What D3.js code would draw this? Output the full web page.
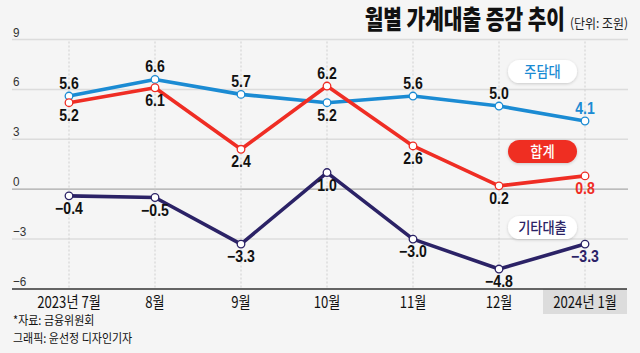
<!DOCTYPE html>
<html><head><meta charset="utf-8">
<script src="https://cdn.jsdelivr.net/npm/d3@7"></script>
<style>
body{margin:0;background:#f5f5f5;}
svg{display:block;}
</style></head>
<body>
<svg id="c" width="640" height="353"></svg>
<script>
const categories = ["2023년 7월","8월","9월","10월","11월","12월","2024년 1월"];
const mortgage = [5.6, 6.6, 5.7, 5.2, 5.6, 5.0, 4.1];   // 주담대
const total    = [5.2, 6.1, 2.4, 6.2, 2.6, 0.2, 0.8];   // 합계
const other    = [-0.4, -0.5, -3.3, 1.0, -3.0, -4.8, -3.3]; // 기타대출
const yTicks   = [9, 6, 3, 0, -3, -6];
// label placement: 1 = above, -1 = below
const mortgagePos = [1, 1, 1, -1, 1, 1, 1];
const totalPos    = [-1, -1, -1, 1, -1, -1, -1];
const otherPos    = [-1, -1, -1, -1, -1, -1, -1];

const seriesList = [
  {name:"주담대", values:mortgage, pos:mortgagePos, color:"#1b8bd3"},
  {name:"합계", values:total, pos:totalPos, color:"#ef2d24"},
  {name:"기타대출", values:other, pos:otherPos, color:"#2b2266"}
];

const svg = d3.select("#c");
const KR = "'Noto Sans CJK KR', 'Liberation Sans', sans-serif";
const NUM = "'Liberation Sans', 'Noto Sans CJK KR', sans-serif";

svg.append("rect").attr("width",640).attr("height",353).attr("fill","#f5f5f5");

const x = d3.scalePoint().domain(categories).range([69, 585]);
const y = d3.scaleLinear().domain([-6, 9]).range([289, 39.5]);

function ctext(g, tx, ty, str, opts){
  const sx = opts.sx || 1;
  const t = g.append("text")
    .attr("transform", `translate(${tx},${ty}) scale(${sx},1)`)
    .attr("text-anchor", opts.anchor || "start")
    .attr("font-family", opts.family || KR)
    .attr("font-size", opts.size)
    .attr("font-weight", opts.weight || 400)
    .attr("fill", opts.fill || "#111")
    .text(str);
  if (opts.ls) t.attr("letter-spacing", opts.ls);
  return t;
}

// title
ctext(svg, 565, 29, "월별 가계대출 증감 추이", {anchor:"end", size:26, weight:900, sx:0.78, fill:"#111"});
ctext(svg, 628, 28, "(단위: 조원)", {anchor:"end", size:13, sx:0.92, fill:"#222"});

// gridlines
const grid = svg.append("g");
yTicks.filter(d => d !== -6).forEach(d => {
  grid.append("line").attr("x1",12).attr("x2",628).attr("y1",y(d)).attr("y2",y(d))
    .attr("stroke", d === 0 ? "#a8a8a8" : "#dcdcdc").attr("stroke-width", d===0?1.2:1.5);
});
// vertical dotted lines
categories.forEach(c => {
  grid.append("line").attr("x1",x(c)).attr("x2",x(c)).attr("y1",y(9)+2).attr("y2",y(-6))
    .attr("stroke","#cfcfcf").attr("stroke-width",1).attr("stroke-dasharray","2,2");
});
// y tick labels
yTicks.forEach(d => {
  ctext(svg, 13, y(d) - 3, d < 0 ? "−" + Math.abs(d) : String(d), {size:13, family:NUM, fill:"#333", sx:0.9});
});

// 2024 highlight box
svg.append("rect").attr("x",543).attr("y",289).attr("width",84).attr("height",25).attr("fill","#dcdcdc");

// x axis line
svg.append("line").attr("x1",12).attr("x2",627).attr("y1",y(-6)).attr("y2",y(-6))
  .attr("stroke","#333").attr("stroke-width",1.5);

// x labels
categories.forEach(c => {
  ctext(svg, x(c), 308, c, {anchor:"middle", size:16, sx:0.82, fill:"#111"});
});

// source
ctext(svg, 13, 325, "*자료: 금융위원회", {size:12.5, sx:0.88, fill:"#111"});
ctext(svg, 13, 343, "그래픽: 윤선정 디자인기자", {size:12.5, sx:0.88, fill:"#111"});

// lines
const line = d3.line().x((d,i) => x(categories[i])).y(d => y(d));
const gl = svg.append("g");
seriesList.forEach(s => {
  gl.append("path").datum(s.values).attr("d", line).attr("fill","none")
    .attr("stroke", s.color).attr("stroke-width",3.6).attr("stroke-linejoin","round");
});
seriesList.forEach(s => {
  s.values.forEach((v,i) => {
    gl.append("circle").attr("cx", x(categories[i])).attr("cy", y(v)).attr("r",3.8)
      .attr("fill","#fff").attr("stroke", s.color).attr("stroke-width",1.3);
  });
});
// value labels
seriesList.forEach(s => {
  s.values.forEach((v,i) => {
    const last = i === s.values.length - 1;
    const str = (v < 0 ? "−" : "") + Math.abs(v).toFixed(1);
    const ty = s.pos[i] > 0 ? y(v) - 7 : y(v) + 18;
    ctext(gl, x(categories[i]), ty, str, {anchor:"middle", size:16, weight:700, family:NUM,
      sx:0.88, fill: last ? s.color : "#111"});
  });
});

// legend pills
const defs = svg.append("defs");
const f = defs.append("filter").attr("id","sh").attr("x","-20%").attr("y","-30%").attr("width","140%").attr("height","170%");
f.append("feDropShadow").attr("dx",0).attr("dy",1).attr("stdDeviation",1.5).attr("flood-color","#000").attr("flood-opacity",0.18);
const pills = [
  {s:seriesList[0], y:60, fill:"#fff", text:"#1b8bd3"},
  {s:seriesList[1], y:140, fill:"#ef2d24", text:"#fff"},
  {s:seriesList[2], y:216, fill:"#fff", text:"#2b2266"}
];
pills.forEach(p => {
  svg.append("rect").attr("x",508).attr("y",p.y).attr("width",69).attr("height",23).attr("rx",11.5)
    .attr("fill",p.fill).attr("filter","url(#sh)");
  ctext(svg, 542.5, p.y + 17, p.s.name, {anchor:"middle", size:15, weight:500, sx:0.88, fill:p.text});
});
</script>
</body></html>
